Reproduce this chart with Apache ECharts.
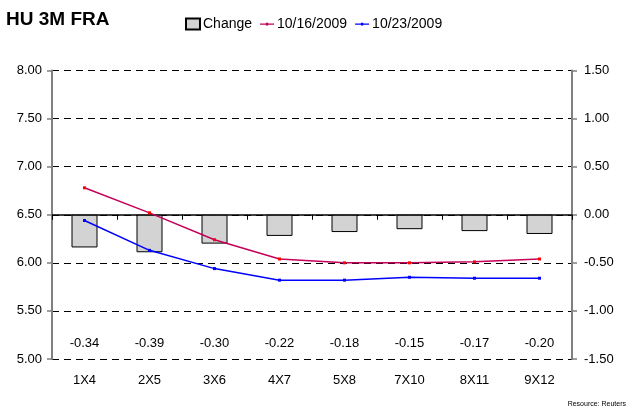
<!DOCTYPE html>
<html>
<head>
<meta charset="utf-8">
<script src="https://cdn.jsdelivr.net/npm/echarts@6/dist/echarts.min.js"></script>
<style>
  html, body { margin: 0; padding: 0; background: #fff; }
  #chart { width: 635px; height: 412px; }
</style>
</head>
<body>
<div id="chart"></div>
<script>
// FRA tenors on the category axis
const tenors = ['1X4', '2X5', '3X6', '4X7', '5X8', '7X10', '8X11', '9X12'];
// Rates (%) on the two dates
const rates1016 = [6.78, 6.52, 6.24, 6.04, 6.00, 6.00, 6.01, 6.04];
const rates1023 = [6.44, 6.13, 5.94, 5.82, 5.82, 5.85, 5.84, 5.84];
// Weekly change (percentage points)
const change = [-0.34, -0.39, -0.30, -0.22, -0.18, -0.15, -0.17, -0.20];

const FONT = 'Liberation Sans, Arial, sans-serif';
const RED_LINE = '#c4005a';
const BLUE_LINE = '#0000ff';

// legend glyph for the line series: a thin stroke with a small marker,
// with hair-thin corner points so the glyph keeps its full box
const lineGlyph = 'path://M0,0L0.01,0L0,0.01Z M14,11L13.99,11L14,10.99Z ' +
  'M0,5H14V6.2H0Z M5.8,4.2H8.2V7H5.8Z';

const chart = echarts.init(document.getElementById('chart'), null, { renderer: 'canvas' });

chart.setOption({
  animation: false,
  backgroundColor: '#ffffff',
  textStyle: { fontFamily: FONT },
  title: [
    {
      text: 'HU 3M FRA', left: 6, top: 10, padding: 0,
      textStyle: { fontFamily: FONT, fontSize: 19, fontWeight: 'bold', color: '#000' }
    },
    {
      text: 'Resource: Reuters', right: 9, bottom: 4, padding: 0,
      textStyle: { fontFamily: FONT, fontSize: 7, fontWeight: 'normal', color: '#000' }
    }
  ],
  legend: {
    top: 17, left: 185, padding: 0,
    itemWidth: 14, itemHeight: 11, itemGap: 8,
    textStyle: { fontFamily: FONT, fontSize: 14, color: '#000', padding: [0, 0, 0, -2] },
    data: [
      { name: 'Change', icon: 'rect' },
      { name: '10/16/2009', icon: lineGlyph, itemStyle: { color: RED_LINE } },
      { name: '10/23/2009', icon: lineGlyph, itemStyle: { color: BLUE_LINE } }
    ]
  },
  grid: { left: 52, right: 63, top: 70.5, bottom: 53 },
  xAxis: [
    {
      type: 'category', data: tenors, position: 'bottom',
      axisLine: { lineStyle: { color: '#000', width: 1.5 } },
      axisTick: { show: true, length: 5, inside: false, lineStyle: { color: '#000' } },
      axisLabel: { color: '#000', fontSize: 13, margin: 15, fontFamily: FONT }
    },
    {
      // change values printed along the bottom of the plot
      type: 'category', data: change.map(v => v.toFixed(2)), position: 'bottom',
      axisLine: { show: false }, axisTick: { show: false },
      axisLabel: { inside: true, margin: 9, color: '#000', fontSize: 13, fontFamily: FONT }
    }
  ],
  yAxis: [
    {
      type: 'value', min: 5, max: 8, interval: 0.5, position: 'left',
      axisLine: { show: true, lineStyle: { color: '#808080', width: 2 } },
      axisTick: { show: true, length: 5, lineStyle: { color: '#808080', width: 1.5 } },
      axisLabel: { color: '#000', fontSize: 13, margin: 10, fontFamily: FONT,
        formatter: v => v.toFixed(2) },
      splitLine: { show: true, lineStyle: { color: '#000', type: [7, 5], width: 1 } }
    },
    {
      type: 'value', min: -1.5, max: 1.5, interval: 0.5, position: 'right',
      axisLine: { show: true, lineStyle: { color: '#808080', width: 2 } },
      axisTick: { show: true, length: 5, lineStyle: { color: '#808080', width: 1.5 } },
      axisLabel: { color: '#000', fontSize: 13, margin: 12, fontFamily: FONT,
        formatter: v => v.toFixed(2) },
      splitLine: { show: false }
    }
  ],
  series: [
    {
      name: 'Change', type: 'bar', xAxisIndex: 0, yAxisIndex: 1,
      data: change, barCategoryGap: '60%',
      itemStyle: { color: '#d3d3d3', borderColor: '#000', borderWidth: 1 }
    },
    {
      name: '10/16/2009', type: 'line', xAxisIndex: 0, yAxisIndex: 0,
      data: rates1016, symbol: 'rect', symbolSize: 3,
      lineStyle: { color: RED_LINE, width: 1.5 },
      itemStyle: { color: '#ff0000' }
    },
    {
      name: '10/23/2009', type: 'line', xAxisIndex: 0, yAxisIndex: 0,
      data: rates1023, symbol: 'rect', symbolSize: 3,
      lineStyle: { color: BLUE_LINE, width: 1.5 },
      itemStyle: { color: BLUE_LINE }
    }
  ]
});
</script>
</body>
</html>
